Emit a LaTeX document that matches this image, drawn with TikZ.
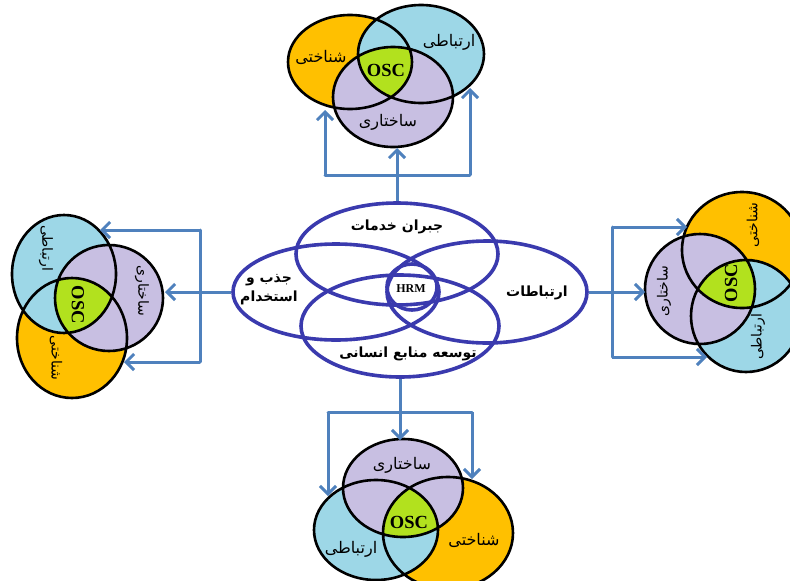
\documentclass[tikz,border=0pt]{standalone}
\usepackage{fontspec}
\usetikzlibrary{shapes.geometric,arrows.meta}
\setmainfont{Liberation Serif}
\newfontfamily\arabicfont[Script=Arabic]{DejaVu Sans}
\TeXXeTstate=1
\definecolor{vOrange}{HTML}{FFC000}
\definecolor{vBlue}{HTML}{9DD7E7}
\definecolor{vPurple}{HTML}{C8BFE2}
\definecolor{vGreen}{HTML}{B2E11E}
\definecolor{arrowBlue}{HTML}{4F81BD}
\definecolor{ringBlue}{HTML}{3A3AAE}
\newcommand\oscVenn[3]{%
  \fill[vOrange] #1; \fill[vBlue] #2; \fill[vPurple] #3;
  \begin{scope}\clip #1; \clip #2; \fill[vGreen] #3; \end{scope}
  \draw[vennline] #1 #2 #3;}
\newcommand\ar[1]{\beginR #1\endR}
\begin{document}
\begin{tikzpicture}[x=1pt,y=-1pt,
  vennline/.style={draw=black,line width=2.6pt},
  ring/.style={draw=ringBlue,line width=3.6pt,ellipse,inner sep=0pt},
  conn/.style={draw=arrowBlue,line width=3pt},
  arr/.style={conn,-{Straight Barb[length=8pt,width=16pt,line width=3pt]}},
  vlabel/.style={font=\arabicfont\fontsize{16}{18}\selectfont,text=black},
  rlabel/.style={font=\arabicfont\fontsize{14}{16}\selectfont,text=black},
  clabel/.style={font=\arabicfont\bfseries\fontsize{14}{19}\selectfont,text=black,align=center},
  osc/.style={font=\bfseries\fontsize{18.5}{20}\selectfont,text=black,inner sep=0pt}]
\useasboundingbox (0,0) rectangle (790,581);
\fill[white] (0,0) rectangle (790,581);

% ---------- central HRM diagram ----------
\node[ring,minimum width=202pt,minimum height=102pt] (comp) at (397,254) {};
\node[ring,minimum width=206pt,minimum height=96pt] (recr) at (336,292) {};
\node[ring,minimum width=200pt,minimum height=102pt] (comm) at (487,292) {};
\node[ring,minimum width=198pt,minimum height=102pt] (dev) at (400,326) {};
\node[ring,minimum width=50pt,minimum height=46pt] (hrm) at (412,287) {};
\node[font=\bfseries\fontsize{12}{13}\selectfont] (hrmt) at (411,289) {HRM};
\node[clabel] (compt) at (397,227) {\ar{جبران خدمات}};
\node[clabel] (recrt) at (269,290) {\ar{جذب و}\\\ar{استخدام}};
\node[clabel] (commt) at (537,293) {\ar{ارتباطات}};
\node[clabel] (devt) at (408,354) {\ar{توسعه منابع انسانی}};

% ---------- top Venn ----------
\oscVenn{(350,62) ellipse [x radius=62,y radius=47]}
        {(421,54) ellipse [x radius=63,y radius=49]}
        {(393,97) ellipse [x radius=60,y radius=50]}
\node[vlabel] (t1) at (321,57) {\ar{شناختی}};
\node[vlabel] (t2) at (449,42) {\ar{ارتباطی}};
\node[vlabel] (t3) at (388,122) {\ar{ساختاری}};
\node[osc] (t0) at (386,70) {OSC};

% ---------- bottom Venn ----------
\oscVenn{(448,533) ellipse [x radius=65,y radius=56]}
        {(376,530) ellipse [x radius=62,y radius=50]}
        {(403,488) ellipse [x radius=60,y radius=49]}
\node[vlabel] (b3) at (402,465) {\ar{ساختاری}};
\node[vlabel] (b2) at (351,549) {\ar{ارتباطی}};
\node[vlabel] (b1) at (474,540) {\ar{شناختی}};
\node[osc] (b0) at (409,522) {OSC};

% ---------- left Venn ----------
\oscVenn{(72,338) ellipse [x radius=55,y radius=60]}
        {(64,274) ellipse [x radius=52,y radius=59]}
        {(109,298) ellipse [x radius=54,y radius=53]}
\node[rlabel,rotate=-90] (l2) at (46,248) {\ar{ارتباطی}};
\node[rlabel,rotate=-90] (l3) at (142,291) {\ar{ساختاری}};
\node[rlabel,rotate=-90] (l1) at (56,358) {\ar{شناختی}};
\node[osc,rotate=-90] (l0) at (78,305) {OSC};

% ---------- right Venn ----------
\oscVenn{(742,250) ellipse [x radius=60,y radius=58]}
        {(746,316) ellipse [x radius=55,y radius=56]}
        {(700,289) ellipse [x radius=55,y radius=55]}
\node[rlabel,rotate=90] (r1) at (753,225) {\ar{شناختی}};
\node[rlabel,rotate=90] (r3) at (664,291) {\ar{ساختاری}};
\node[rlabel,rotate=90] (r2) at (758,337) {\ar{ارتباطی}};
\node[osc,rotate=90] (r0) at (731,283) {OSC};

% ---------- connectors: top ----------
\coordinate (tJL) at (325,175);
\coordinate (tJR) at (470,175);
\coordinate (tTipL) at (325,110);
\coordinate (tTipM) at (397,148);
\coordinate (tTipR) at (470,88);
\draw[arr] (comp.north) -- (tTipM);
\draw[conn,line cap=round] (tJL) -- (tJR);
\draw[arr] (tJL) -- (tTipL);
\draw[arr] (tJR) -- (tTipR);

% ---------- connectors: bottom ----------
\coordinate (bJL) at (328,412);
\coordinate (bJR) at (472,412);
\coordinate (bTipL) at (328,496);
\coordinate (bTipM) at (400,440);
\coordinate (bTipR) at (472,479);
\draw[arr] (dev.south) -- (bTipM);
\draw[conn,line cap=round] (bJL) -- (bJR);
\draw[arr] (bJL) -- (bTipL);
\draw[arr] (bJR) -- (bTipR);

% ---------- connectors: left ----------
\coordinate (lJT) at (200,230);
\coordinate (lJB) at (200,362);
\coordinate (lTipT) at (100,230);
\coordinate (lTipM) at (165,292);
\coordinate (lTipB) at (124,362);
\draw[arr] (recr.west) -- (lTipM);
\draw[conn,line cap=round] (lJT) -- (lJB);
\draw[arr] (lJT) -- (lTipT);
\draw[arr] (lJB) -- (lTipB);

% ---------- connectors: right ----------
\coordinate (rJT) at (612,227);
\coordinate (rJB) at (612,357);
\coordinate (rTipT) at (687,227);
\coordinate (rTipM) at (645,292);
\coordinate (rTipB) at (707,357);
\draw[arr] (comm.east) -- (rTipM);
\draw[conn,line cap=round] (rJT) -- (rJB);
\draw[arr] (rJT) -- (rTipT);
\draw[arr] (rJB) -- (rTipB);
\end{tikzpicture}
\end{document}
